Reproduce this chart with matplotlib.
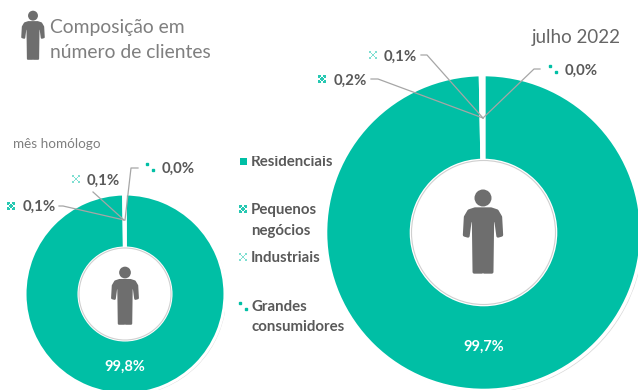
import matplotlib
matplotlib.use("Agg")
import matplotlib.pyplot as plt
from matplotlib.patches import Circle, Polygon, Rectangle

plt.rcParams['font.family'] = ['Lato', 'DejaVu Sans']

W, H = 638, 390
TEAL = '#00BFA5'
ICON = '#6E6E6E'
LABEL = '#595959'

categories = ['Residenciais', 'Pequenos\nnegócios', 'Industriais', 'Grandes\nconsumidores']
valores_mes = [99.8, 0.1, 0.1, 0.0]
valores_julho = [99.7, 0.2, 0.1, 0.0]


def fmt(v):
    return f'{v:.1f}%'.replace('.', ',')


def donut(fig, valores, cx, cy, r, r_in, gap):
    # sombra clara por baixo
    ax = fig.add_axes([(cx - r) / W, 1 - (cy + r) / H, 2 * r / W, 2 * r / H])
    ax.add_patch(Circle((0.012, -0.012), 0.995, color='#D9D9D9', zorder=0))
    ax.pie(valores, radius=1, startangle=90, counterclock=False, colors=[TEAL] * 4,
           wedgeprops=dict(width=1 - r_in / r, edgecolor='white', linewidth=gap))
    ax.add_patch(Circle((0, 0), r_in / r, fc='white', ec='#CFCFCF', lw=0.8, zorder=5))
    ax.set_xlim(-1, 1)
    ax.set_ylim(-1, 1)
    ax.axis('off')


def pessoa(ax, cx, top, h):
    s = h / 84
    ax.add_patch(Circle((cx, top + 8 * s), 8.5 * s, fc=ICON, ec='none', zorder=6))
    pts = [(-8, 19), (8, 19), (14, 21), (17.5, 27), (18.5, 45), (15, 46), (13, 31), (9.5, 30),
           (8.8, 82), (1.2, 82), (0.7, 54), (-0.7, 54), (-1.2, 82), (-8.8, 82), (-9.5, 30),
           (-13, 31), (-15, 46), (-18.5, 45), (-17.5, 27), (-14, 21)]
    ax.add_patch(Polygon([(cx + x * s, top + y * s) for x, y in pts], closed=True, fc=ICON,
                         ec=ICON, lw=2.4 * s, joinstyle='round', zorder=6))


# mini padrões da legenda, em grelha de 5x5
PADRAO = {1: ['XX.XX', 'X.X.X', '.XXX.', 'X.X.X', 'XX.XX'],
          2: ['X...X', '.X.X.', '..X..', '.X.X.', 'X...X']}


def marca(ax, kind, x, y, z=8):
    if kind == 0:
        ax.add_patch(Rectangle((x - 3.5, y - 3.5), 7, 7, fc=TEAL, ec='none', zorder=z))
    elif kind == 3:
        ax.plot([x - 3, x + 3], [y - 3, y + 3], ls='none', marker='s', ms=1.8, color=TEAL, zorder=z)
    else:
        cor = '#26C8B2' if kind == 1 else '#7FDFD2'
        for i, row in enumerate(PADRAO[kind]):
            for j, c in enumerate(row):
                if c == 'X':
                    ax.add_patch(Rectangle((x - 4 + j * 1.6, y - 4 + i * 1.6), 1.6, 1.6,
                                           fc=cor, ec='none', zorder=z))


fig = plt.figure(figsize=(W / 100, H / 100), dpi=100, facecolor='white')

donut(fig, valores_mes, 125, 294, 100, 46, 2.2)
donut(fig, valores_julho, 483.5, 232.5, 158, 72, 2.6)

ov = fig.add_axes([0, 0, 1, 1])
ov.set_xlim(0, W)
ov.set_ylim(H, 0)
ov.axis('off')
ov.patch.set_alpha(0)

pessoa(ov, 33, 11, 49)
pessoa(ov, 125, 267, 58)
pessoa(ov, 483, 190, 84)

ov.text(50, 27, 'Composição em', fontsize=13.85, color='#7F7F7F', va='center')
ov.text(50, 52, 'número de clientes', fontsize=13.85, color='#7F7F7F', va='center')
ov.text(13, 144.5, 'mês homólogo', fontsize=9.7, color='#7F7F7F', va='center')
ov.text(532, 37, 'julho 2022', fontsize=13.5, color='#666666', va='center')

# linhas de chamada
ln = dict(color='#A6A6A6', lw=0.9, zorder=7)
ov.plot([59, 63, 124], [206, 206, 220], **ln)
ov.plot([93, 124], [192, 220], **ln)
ov.plot([138, 131, 125], [168, 168, 220], **ln)
ov.plot([371, 378, 483], [79, 79, 118], **ln)
ov.plot([421, 427, 483], [55, 55, 118], **ln)
ov.plot([540, 534, 483], [69, 69, 118], **ln)

bold = dict(fontsize=10.8, fontweight='bold', color=LABEL, va='center')
marca(ov, 1, 11, 206)
ov.text(23, 207, fmt(valores_mes[1]), **bold)
marca(ov, 2, 76, 179)
ov.text(87, 181, fmt(valores_mes[2]), **bold)
marca(ov, 3, 150, 167)
ov.text(162, 169, fmt(valores_mes[3]), **bold)

marca(ov, 1, 322, 79)
ov.text(334, 81, fmt(valores_julho[1]), **bold)
marca(ov, 2, 373, 55)
ov.text(384, 57, fmt(valores_julho[2]), **bold)
marca(ov, 3, 553, 69)
ov.text(565, 71, fmt(valores_julho[3]), **bold)

white = dict(fontsize=10.5, fontweight='bold', color='white', ha='center', va='center', zorder=8)
ov.text(125, 367, fmt(valores_mes[0]), **white)
ov.text(484, 347, fmt(valores_julho[0]), **white)

# legenda
for i, y in enumerate([161, 209, 257, 306]):
    marca(ov, i, 243, y)
ov.text(251, 162, categories[0], **bold)
ov.add_patch(Rectangle((250, 150), 85, 5.5, fc='white', ec='none', zorder=9))
ov.text(251, 220.5, categories[1], linespacing=1.6, **bold)
ov.text(251, 258, categories[2], **bold)
ov.text(251, 317, categories[3], linespacing=1.55, **bold)

fig.savefig('out.png', dpi=100)
